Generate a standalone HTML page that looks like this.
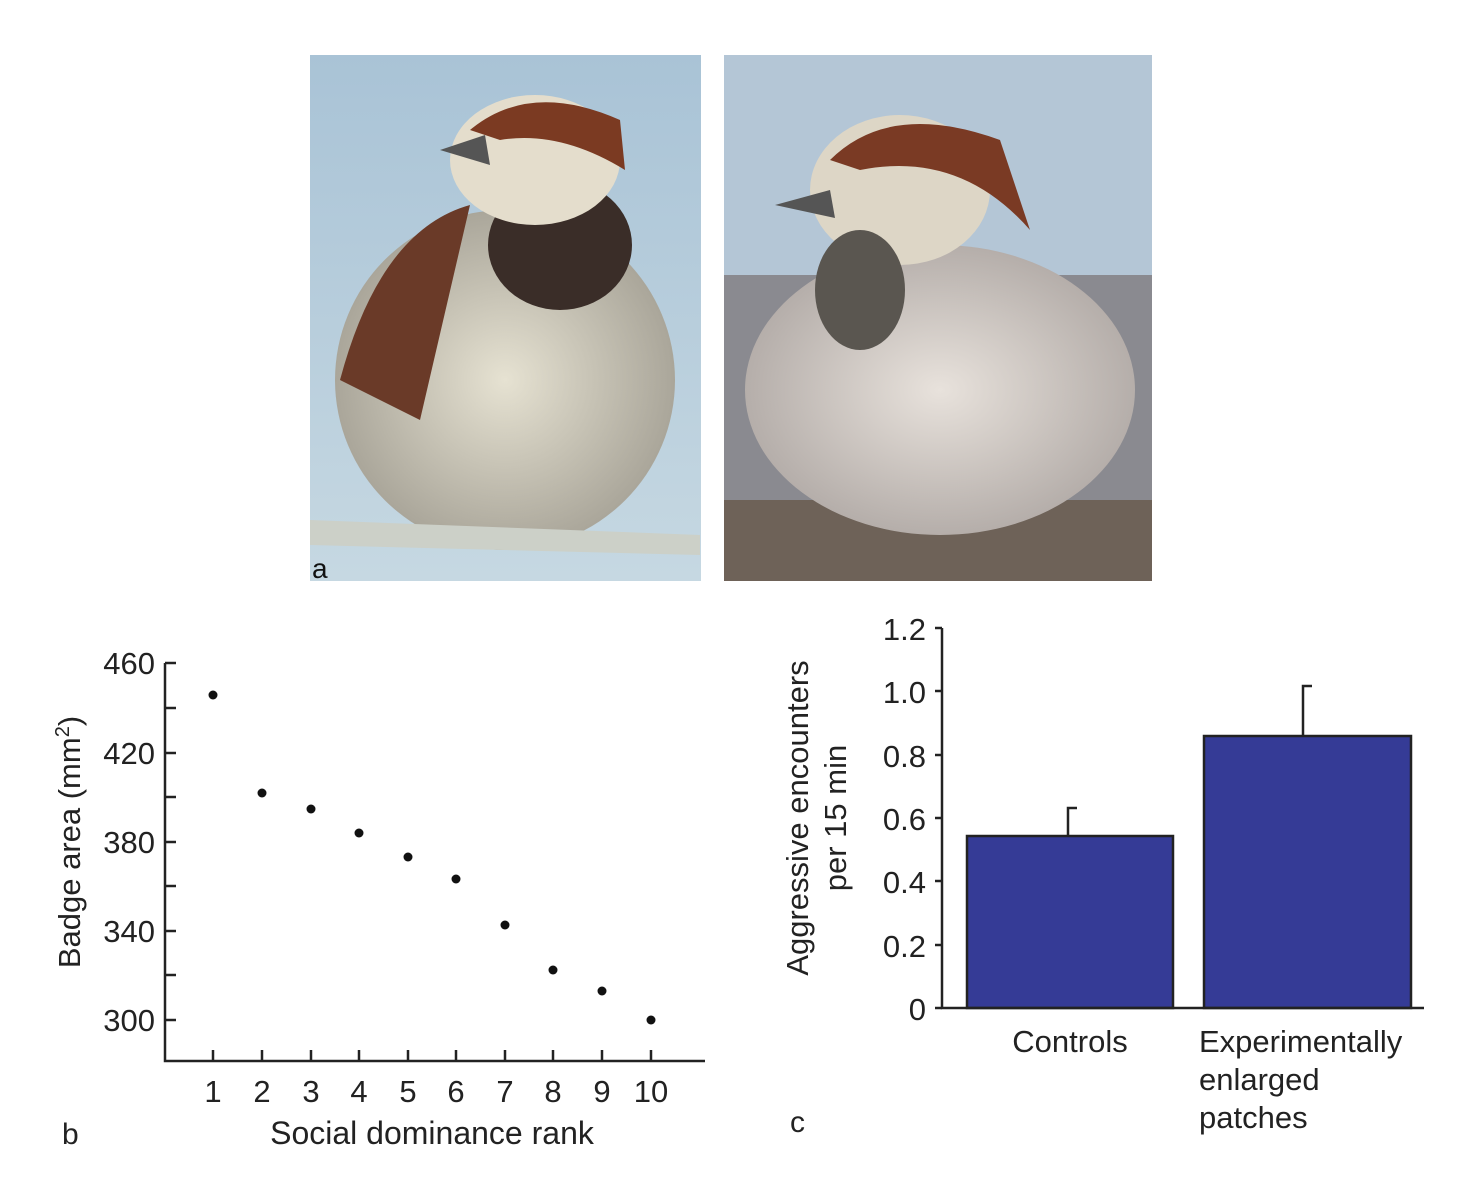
<!DOCTYPE html>
<html><head><style>body{margin:0;background:#fff}</style></head><body>
<svg width="1476" height="1172" xmlns="http://www.w3.org/2000/svg" font-family="Liberation Sans, sans-serif">
<defs>
<linearGradient id="sky1" x1="0" y1="0" x2="0" y2="1"><stop offset="0" stop-color="#a9c3d6"/><stop offset="1" stop-color="#c6d8e2"/></linearGradient>
<radialGradient id="body1" cx="0.5" cy="0.5" r="0.5"><stop offset="0" stop-color="#e6e2d2"/><stop offset="1" stop-color="#aaa69a"/></radialGradient>
<radialGradient id="body2" cx="0.5" cy="0.5" r="0.5"><stop offset="0" stop-color="#e8e2dc"/><stop offset="1" stop-color="#b5aeaa"/></radialGradient>
</defs>
<rect x="310" y="55" width="391" height="526" fill="url(#sky1)"/>
<ellipse cx="505" cy="380" rx="170" ry="170" fill="url(#body1)"/>
<path d="M340 380 Q380 230 470 205 L420 420 Z" fill="#6a3a28"/>
<ellipse cx="560" cy="245" rx="72" ry="65" fill="#3a2d28"/>
<ellipse cx="535" cy="160" rx="85" ry="65" fill="#e4ddcc"/>
<path d="M470 130 Q530 80 620 120 L625 170 Q560 130 500 140 Z" fill="#7b3a22"/>
<path d="M440 150 L485 135 L490 165 Z" fill="#555"/>
<path d="M310 520 L700 535 L700 555 L310 545 Z" fill="#ccd0c8"/>
<rect x="724" y="55" width="428" height="526" fill="#8a8a90"/>
<rect x="724" y="55" width="428" height="220" fill="#b4c6d6"/>
<rect x="724" y="500" width="428" height="81" fill="#6e6258"/>
<ellipse cx="940" cy="390" rx="195" ry="145" fill="url(#body2)"/>
<ellipse cx="900" cy="190" rx="90" ry="75" fill="#ddd6c6"/>
<path d="M830 160 Q890 100 1000 140 L1030 230 Q960 150 860 170 Z" fill="#7a3a24"/>
<ellipse cx="860" cy="290" rx="45" ry="60" fill="#5a5650"/>
<path d="M775 205 L830 190 L835 218 Z" fill="#555"/>
<text x="312" y="578" font-size="28" fill="#111">a</text>
<g stroke="#222" stroke-width="2.5" fill="none">
<path d="M165 663 V1061 H705"/>
<path d="M165 663 h11 M165 708 h11 M165 753 h11 M165 797 h11 M165 842 h11 M165 886 h11 M165 931 h11 M165 975 h11 M165 1020 h11"/>
<path d="M213 1061 v-11 M262 1061 v-11 M311 1061 v-11 M359 1061 v-11 M408 1061 v-11 M456 1061 v-11 M505 1061 v-11 M553 1061 v-11 M602 1061 v-11 M651 1061 v-11"/>
</g>
<g fill="#111">
<circle cx="213" cy="695" r="4.5"/><circle cx="262" cy="793" r="4.5"/><circle cx="311" cy="809" r="4.5"/><circle cx="359" cy="833" r="4.5"/><circle cx="408" cy="857" r="4.5"/><circle cx="456" cy="879" r="4.5"/><circle cx="505" cy="925" r="4.5"/><circle cx="553" cy="970" r="4.5"/><circle cx="602" cy="991" r="4.5"/><circle cx="651" cy="1020" r="4.5"/>
</g>
<g font-size="31" fill="#222" text-anchor="end">
<text x="155" y="674">460</text><text x="155" y="764">420</text><text x="155" y="853">380</text><text x="155" y="942">340</text><text x="155" y="1031">300</text>
</g>
<g font-size="31" fill="#222" text-anchor="middle">
<text x="213" y="1102">1</text><text x="262" y="1102">2</text><text x="311" y="1102">3</text><text x="359" y="1102">4</text><text x="408" y="1102">5</text><text x="456" y="1102">6</text><text x="505" y="1102">7</text><text x="553" y="1102">8</text><text x="602" y="1102">9</text><text x="651" y="1102">10</text>
</g>
<text x="432" y="1144" font-size="32" fill="#222" text-anchor="middle">Social dominance rank</text>
<text x="62" y="1144" font-size="30" fill="#222">b</text>
<text transform="translate(80 842) rotate(-90)" font-size="31" fill="#222" text-anchor="middle">Badge area (mm<tspan dy="-11" font-size="20">2</tspan><tspan dy="11">)</tspan></text>
<rect x="967" y="836" width="206" height="172" fill="#353b96" stroke="#222" stroke-width="2.5"/>
<rect x="1204" y="736" width="207" height="272" fill="#353b96" stroke="#222" stroke-width="2.5"/>
<g stroke="#222" stroke-width="2.5" fill="none">
<path d="M942 628 V1008 H1424"/>
<path d="M942 628 h-7 M942 691 h-7 M942 755 h-7 M942 818 h-7 M942 881 h-7 M942 945 h-7 M942 1008 h-7"/>
<path d="M1068 836 V808 h9 M1303 736 V686 h9"/>
</g>
<g font-size="31" fill="#222" text-anchor="end">
<text x="926" y="640">1.2</text><text x="926" y="703">1.0</text><text x="926" y="767">0.8</text><text x="926" y="830">0.6</text><text x="926" y="893">0.4</text><text x="926" y="957">0.2</text><text x="926" y="1020">0</text>
</g>
<text x="1070" y="1052" font-size="31" fill="#222" text-anchor="middle">Controls</text>
<text x="1199" y="1052" font-size="31" fill="#222">Experimentally</text>
<text x="1199" y="1090" font-size="31" fill="#222">enlarged</text>
<text x="1199" y="1128" font-size="31" fill="#222">patches</text>
<text x="790" y="1132" font-size="30" fill="#222">c</text>
<text transform="translate(808 818) rotate(-90)" font-size="31" fill="#222" text-anchor="middle">Aggressive encounters</text>
<text transform="translate(846 818) rotate(-90)" font-size="31" fill="#222" text-anchor="middle">per 15 min</text>
</svg>
</body></html>
